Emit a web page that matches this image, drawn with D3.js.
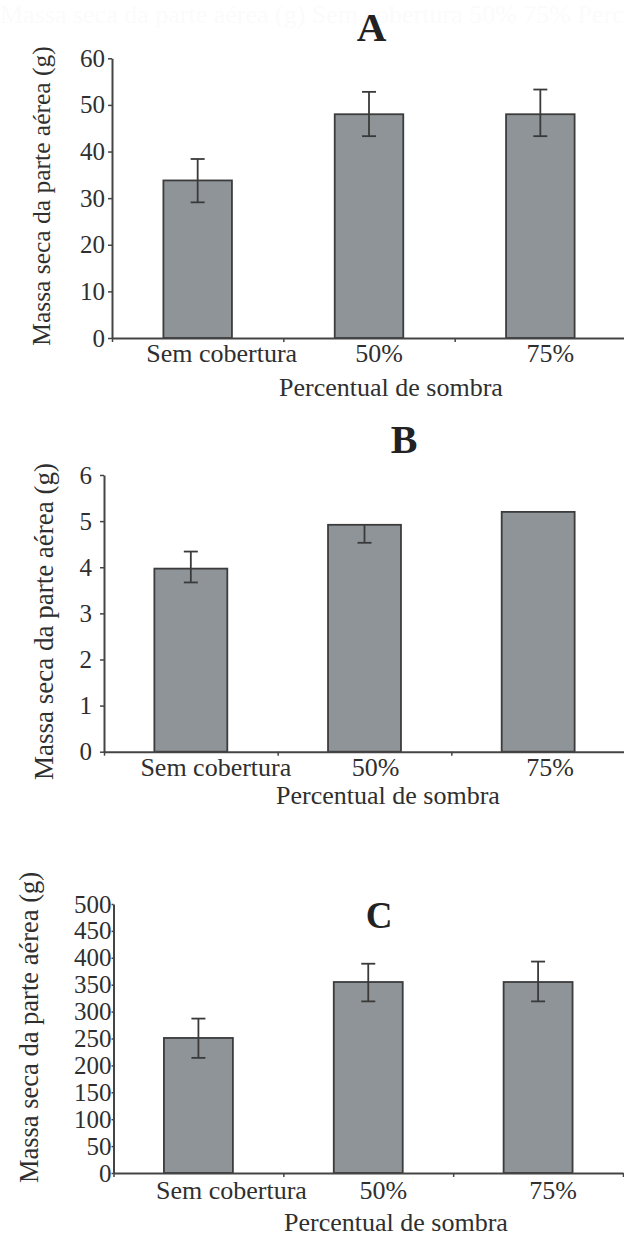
<!DOCTYPE html>
<html>
<head>
<meta charset="utf-8">
<script src="https://cdn.jsdelivr.net/npm/d3@7"></script>
<style>
  html, body { margin: 0; padding: 0; background: #ffffff; }
  #warm { position: absolute; left: 0; top: 0; opacity: 0.01; font-family: Tinos, "Liberation Serif", serif; font-size: 26px; white-space: nowrap; pointer-events: none; }
  svg { display: block; }
  svg text { font-family: Tinos, "Liberation Serif", serif; }
</style>
</head>
<body>
<div id="warm">Massa seca da parte aérea (g) Sem cobertura 50% 75% Percentual de sombra 0123456789 <b>ABC</b></div>
<svg id="chart" width="624" height="1242"></svg>
<script>
// ---------------- DATA ----------------
const categories = ["Sem cobertura", "50%", "75%"];
const panelLetters = ["A", "B", "C"];
const yTitle = "Massa seca da parte aérea (g)";
const xTitle = "Percentual de sombra";

// Panel A
const massA = [33.8, 48.0, 48.0];
const errUpA = [4.6, 4.8, 5.3];
const errDownA = [4.7, 4.7, 4.7];
const ticksA = [0, 10, 20, 30, 40, 50, 60];

// Panel B
const massB = [3.97, 4.92, 5.20];
const errUpB = [0.37, 0, 0];
const errDownB = [0.30, 0.39, 0];
const ticksB = [0, 1, 2, 3, 4, 5, 6];

// Panel C
const massC = [251, 355, 355];
const errUpC = [36, 34, 38];
const errDownC = [37, 36, 36];
const ticksC = [0, 50, 100, 150, 200, 250, 300, 350, 400, 450, 500];

// ---------------- LAYOUT (positions / styles) ----------------
const FONT = "Tinos, 'Liberation Serif', serif";
const panels = [
  { letter: panelLetters[0], mass: massA, up: errUpA, down: errDownA, ticks: ticksA,
    x0: 112, x1: 626, yZero: 338, yTop: 58.3, pad: 0.6,
    tickPad: 3, tickLen: 4, labelShift: [24, 10, 10], tickBase: 362, titleBase: 396, titleX: 391,
    yLabX: 50, yLabY: 196, yLabSize: 25.5,
    letterX: 371.5, letterY: 40.5, letterSize: 41 },
  { letter: panelLetters[1], mass: massB, up: errUpB, down: errDownB, ticks: ticksB,
    x0: 104, x1: 625, yZero: 751.7, yTop: 475, pad: 0.58,
    tickPad: 8, tickLen: 4, labelShift: [25, 11, 12], tickBase: 776, titleBase: 804, titleX: 388,
    yLabX: 53, yLabY: 621.5, yLabSize: 27,
    letterX: 404, letterY: 453, letterSize: 40 },
  { letter: panelLetters[2], mass: massC, up: errUpC, down: errDownC, ticks: ticksC,
    x0: 113.5, x1: 623, yZero: 1173, yTop: 904, pad: 0.594,
    tickPad: 0, tickLen: 2, labelShift: [33, 15, 15], tickBase: 1199, titleBase: 1231, titleX: 396,
    yLabX: 38, yLabY: 1027.5, yLabSize: 26.5,
    letterX: 379, letterY: 928, letterSize: 37 }
];

const barFill = "#8e9497";
const barStroke = "#3c3c3c";
const axisColor = "#444444";
const errColor = "#3a3a3a";
const textColor = "#2f2f2f";
const capW = 14;

const svg = d3.select("#chart");
svg.append("rect").attr("width", 624).attr("height", 1242).attr("fill", "#ffffff");

function styleText(sel, size, weight) {
  return sel.style("font-family", FONT).style("font-weight", weight || "normal")
    .style("font-style", "normal").style("font-size", size + "px").style("fill", textColor);
}

panels.forEach(p => {
  const g = svg.append("g");
  const yMax = p.ticks[p.ticks.length - 1];
  const y = d3.scaleLinear().domain([0, yMax]).range([p.yZero, p.yTop]);
  const x = d3.scaleBand().domain(categories).range([p.x0, p.x1])
    .paddingInner(p.pad).paddingOuter(p.pad / 2);
  const xb = d3.scaleLinear().domain([0, categories.length]).range([p.x0, p.x1]);

  // bars
  g.selectAll("rect.bar").data(p.mass).enter().append("rect")
    .attr("class", "bar")
    .attr("x", (d, i) => x(categories[i]))
    .attr("y", d => y(d))
    .attr("width", x.bandwidth())
    .attr("height", d => y(0) - y(d))
    .attr("fill", barFill)
    .attr("stroke", barStroke)
    .attr("stroke-width", 1.8);

  // error bars
  p.mass.forEach((m, i) => {
    const up = p.up[i], dn = p.down[i];
    if (up === 0 && dn === 0) return;
    const cx = x(categories[i]) + x.bandwidth() / 2;
    g.append("line").attr("x1", cx).attr("x2", cx)
      .attr("y1", y(m + up)).attr("y2", y(m - dn))
      .attr("stroke", errColor).attr("stroke-width", 1.8);
    if (up > 0) g.append("line").attr("x1", cx - capW / 2).attr("x2", cx + capW / 2)
      .attr("y1", y(m + up)).attr("y2", y(m + up))
      .attr("stroke", errColor).attr("stroke-width", 1.8);
    if (dn > 0) g.append("line").attr("x1", cx - capW / 2).attr("x2", cx + capW / 2)
      .attr("y1", y(m - dn)).attr("y2", y(m - dn))
      .attr("stroke", errColor).attr("stroke-width", 1.8);
  });

  // y axis
  const yAxis = d3.axisLeft(y).tickValues(p.ticks).tickSizeInner(p.tickLen).tickSizeOuter(0)
    .tickPadding(p.tickPad).tickFormat(d3.format("d"));
  const ya = g.append("g").attr("transform", `translate(${p.x0},0)`).call(yAxis);
  ya.attr("font-family", null).attr("font-size", null);
  ya.select(".domain").attr("stroke", axisColor).attr("stroke-width", 2);
  ya.selectAll(".tick line").attr("stroke", axisColor).attr("stroke-width", 1.5);
  styleText(ya.selectAll(".tick text"), 25);

  // x axis (boundary ticks)
  const xAxis = d3.axisBottom(xb).tickValues(d3.range(categories.length + 1))
    .tickSizeInner(4).tickSizeOuter(0).tickFormat("");
  const xa = g.append("g").attr("transform", `translate(0,${p.yZero})`).call(xAxis);
  xa.attr("font-family", null).attr("font-size", null);
  xa.select(".domain").attr("stroke", axisColor).attr("stroke-width", 2);
  xa.selectAll(".tick line").attr("stroke", axisColor).attr("stroke-width", 1.5);
  xa.selectAll(".tick text").remove();

  // category labels
  styleText(g.selectAll("text.cat").data(categories).enter().append("text")
    .attr("class", "cat")
    .attr("x", (d, i) => x(d) + x.bandwidth() / 2 + p.labelShift[i])
    .attr("y", p.tickBase)
    .attr("text-anchor", "middle"), 26)
    .text(d => d);

  // x title
  styleText(g.append("text").attr("x", p.titleX).attr("y", p.titleBase)
    .attr("text-anchor", "middle"), 26).text(xTitle);

  // y title
  styleText(g.append("text")
    .attr("transform", `translate(${p.yLabX},${p.yLabY}) rotate(-90)`)
    .attr("text-anchor", "middle"), p.yLabSize).text(yTitle);

  // panel letter
  styleText(g.append("text").attr("x", p.letterX).attr("y", p.letterY)
    .attr("text-anchor", "middle"), p.letterSize, "bold")
    .style("fill", "#222").text(p.letter);
});

// re-apply the font once fonts report ready, so text re-shapes with the serif face
function refreshFonts() {
  svg.selectAll("text").each(function () {
    const s = d3.select(this);
    const f = s.style("font-family");
    s.style("font-family", "serif");
    this.getBBox();
    s.style("font-family", f || FONT);
  });
}
if (document.fonts && document.fonts.ready) {
  document.fonts.ready.then(() => { refreshFonts(); setTimeout(refreshFonts, 30); });
}
</script>
</body>
</html>
